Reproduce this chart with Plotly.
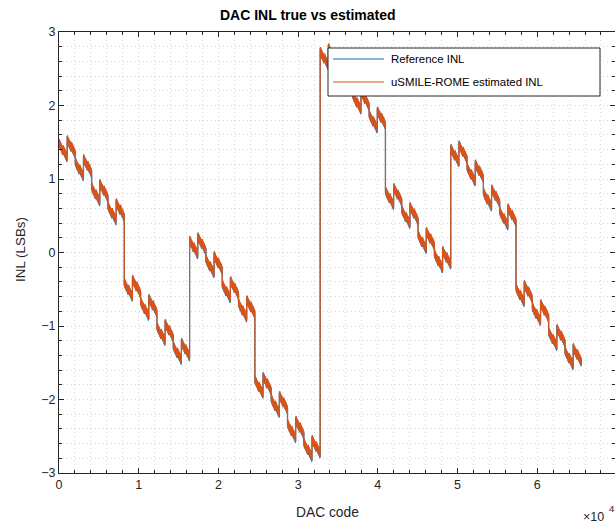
import numpy as np
import plotly.graph_objects as go

# ---- data: INL contribution of each DAC bit (LSB units), index 0 = LSB ----
n_bits = 16
inl_offset = 1.5
ref_bit_inl = [-0.021, 0.016, -0.021, 0.016, -0.016, 0.010, -0.021, -0.035,
               -0.062, -0.092, 0.050, -0.260, -0.600, -1.900, -1.320, 1.250]
est_bit_inl = [-0.021, 0.016, -0.021, 0.016, -0.016, 0.010, -0.021, -0.035,
               -0.060, -0.082, 0.048, -0.258, -0.598, -1.900, -1.320, 1.250]

x_ticks = [0, 10000, 20000, 30000, 40000, 50000, 60000, 70000]
x_tick_labels = ["0", "1", "2", "3", "4", "5", "6", "7"]
y_ticks = [-3, -2, -1, 0, 1, 2, 3]

codes = np.arange(2 ** n_bits)
bits = (codes[:, None] >> np.arange(n_bits)[None, :]) & 1
ref_inl = inl_offset + bits @ np.array(ref_bit_inl)
est_inl = inl_offset + bits @ np.array(est_bit_inl)

BLUE = "#0072BD"
ORANGE = "#D95319"
AXC = "#262626"
GRID = "#d6d6d6"
FONT = "Liberation Sans, Arial, Helvetica, sans-serif"

# page layout: body margin removed, figure fills the window
W, H = 615, 531
PX0, PY0, PX1, PY1 = 59, 32, 615, 473   # plot area in page pixels (right edge = window edge)
PW, PH = PX1 - PX0, PY1 - PY0
x_right = 69760


def px(x):
    return (x - PX0) / PW


def py(y):
    return (PY1 - y) / PH


fig = go.Figure()
fig.add_trace(go.Scatter(x=codes, y=ref_inl, mode="lines", name="Reference INL",
                         line=dict(color=BLUE, width=1.2, simplify=False), showlegend=False))
fig.add_trace(go.Scatter(x=codes, y=est_inl, mode="lines", name="uSMILE-ROME estimated INL",
                         line=dict(color=ORANGE, width=1.2, simplify=False), showlegend=False))

grid_dash = "1px,3px"
fig.update_layout(
    width=W, height=H,
    margin=dict(l=PX0, r=0, t=PY0, b=H - PY1),
    paper_bgcolor="white", plot_bgcolor="white",
    font=dict(family=FONT, size=12.5, color=AXC),
    showlegend=False,
    xaxis=dict(range=[0, x_right], tickvals=x_ticks, ticktext=x_tick_labels,
               showline=True, linecolor=AXC, linewidth=1, mirror="ticks",
               ticks="inside", ticklen=5, tickcolor=AXC, zeroline=False,
               showgrid=True, gridcolor=GRID, griddash=grid_dash, gridwidth=1,
               minor=dict(dtick=2000, showgrid=True, gridcolor=GRID, griddash=grid_dash,
                          ticks="inside", ticklen=3, tickcolor=AXC),
               tickfont=dict(size=12.5, color=AXC)),
    yaxis=dict(range=[-3, 3], tickvals=y_ticks,
               showline=True, linecolor=AXC, linewidth=1, mirror="ticks",
               ticks="inside", ticklen=5, tickcolor=AXC, zeroline=False,
               showgrid=True, gridcolor=GRID, griddash=grid_dash, gridwidth=1,
               minor=dict(dtick=0.2, showgrid=True, gridcolor=GRID, griddash=grid_dash,
                          ticks="inside", ticklen=3, tickcolor=AXC),
               tickfont=dict(size=12.5, color=AXC)),
)

# legend box (MATLAB style)
fig.add_shape(type="rect", xref="paper", yref="paper",
              x0=px(328), x1=px(600), y0=py(96), y1=py(48),
              fillcolor="white", line=dict(color=AXC, width=1), layer="above")
fig.add_shape(type="line", xref="paper", yref="paper",
              x0=px(333), x1=px(384), y0=py(59), y1=py(59),
              line=dict(color=BLUE, width=1.2), layer="above")
fig.add_shape(type="line", xref="paper", yref="paper",
              x0=px(333), x1=px(384), y0=py(82), y1=py(82),
              line=dict(color=ORANGE, width=1.2), layer="above")

ann = dict(xref="paper", yref="paper", showarrow=False)
fig.add_annotation(text="Reference INL", x=px(389), y=py(59), xanchor="left", yanchor="middle",
                   font=dict(size=11.4, color="black"), **ann)
fig.add_annotation(text="uSMILE-ROME estimated INL", x=px(389), y=py(82), xanchor="left",
                   yanchor="middle", font=dict(size=11.4, color="black"), **ann)
fig.add_annotation(text="<b>DAC INL true vs estimated</b>", x=px(308), y=py(15),
                   xanchor="center", yanchor="middle", font=dict(size=14, color="black"), **ann)
fig.add_annotation(text="DAC code", x=px(327), y=py(512), xanchor="center", yanchor="middle",
                   font=dict(size=13.8, color=AXC), **ann)
fig.add_annotation(text="INL (LSBs)", x=px(21), y=py(250), xanchor="center", yanchor="middle",
                   textangle=-90, font=dict(size=13.4, color=AXC), **ann)
fig.add_annotation(text="×10", x=px(606), y=py(517), xanchor="right",
                   yanchor="middle", font=dict(size=12.5, color=AXC), **ann)
fig.add_annotation(text="4", x=px(607), y=py(508), xanchor="left",
                   yanchor="middle", font=dict(size=9.5, color=AXC), **ann)

fig.write_html(
    "out.html",
    config={"displayModeBar": False},
    post_script="document.body.style.margin='0px';"
                "document.documentElement.style.overflow='hidden';"
                "document.body.style.overflow='hidden';",
)
